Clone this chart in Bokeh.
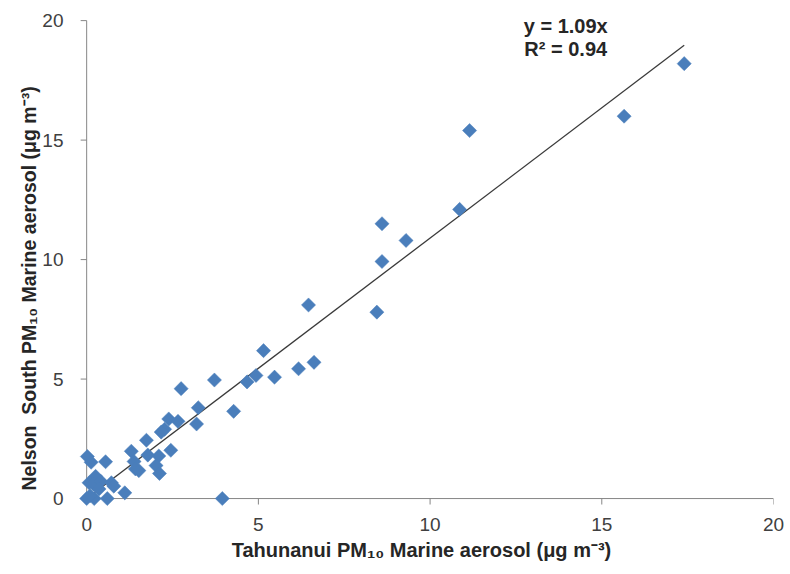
import math
from bokeh.plotting import figure
from bokeh.models import Range1d, Label, FixedTicker, Title
from bokeh.embed import file_html
from bokeh.resources import INLINE

# Tahunanui (x) vs Nelson South (y) PM10 marine aerosol, µg m-3
tahunanui = [17.4, 15.65, 11.15, 10.86, 9.3, 8.6, 8.6, 8.45, 6.46, 6.62,
             6.17, 5.47, 5.15, 4.93, 4.67, 3.72, 2.75, 3.25, 4.28, 3.2,
             2.39, 2.66, 2.27, 2.17, 1.74, 1.3, 2.45, 2.1, 1.78, 1.38,
             1.42, 1.52, 2.02, 2.12, 0.02, 0.13, 0.55, 0.26, 0.07, 0.2,
             0.41, 0.72, 0.79, 0.36, 1.11, 0.0, 0.22, 0.6, 3.95, 0.1]
nelson_south = [18.2, 16.0, 15.4, 12.1, 10.8, 11.5, 9.92, 7.8, 8.1, 5.7,
                5.43, 5.08, 6.19, 5.15, 4.88, 4.96, 4.6, 3.8, 3.65, 3.12,
                3.33, 3.23, 2.9, 2.78, 2.44, 1.98, 2.02, 1.78, 1.82, 1.55,
                1.24, 1.17, 1.38, 1.05, 1.76, 1.52, 1.54, 0.93, 0.66, 0.6,
                0.72, 0.66, 0.52, 0.4, 0.24, 0.0, 0.0, 0.0, 0.0, 0.12]
slope = 1.09
r_squared = 0.94
axis_ticks = [0, 5, 10, 15, 20]

FONT = "Liberation Sans"
AXIS_GREY = "#868686"

p = figure(output_backend="svg", toolbar_location=None,
           x_range=Range1d(-0.5, 20), y_range=Range1d(-0.5, 20.8),
           frame_width=704, frame_height=509,
           min_border_left=69, min_border_right=17,
           min_border_top=1, min_border_bottom=64)
p.outline_line_color = None
p.grid.visible = False
p.background_fill_color = "white"

# axis lines and outward tick marks at value 0, drawn through the data scales
lo, hi = min(axis_ticks), max(axis_ticks)
tick_len_y = 0.25   # in y units (x-axis ticks)
tick_len_x = 0.175  # in x units (y-axis ticks)
p.segment(x0=[lo], y0=[lo], x1=[hi], y1=[lo], line_color=AXIS_GREY, line_width=1)
p.segment(x0=[lo], y0=[lo], x1=[lo], y1=[hi], line_color=AXIS_GREY, line_width=1)
p.segment(x0=axis_ticks, y0=[lo] * len(axis_ticks), x1=axis_ticks,
          y1=[lo - tick_len_y] * len(axis_ticks), line_color=AXIS_GREY, line_width=1)
p.segment(x0=[lo] * len(axis_ticks), y0=axis_ticks, x1=[lo - tick_len_x] * len(axis_ticks),
          y1=axis_ticks, line_color=AXIS_GREY, line_width=1)

# trend line y = slope * x
fit_x = [0, max(tahunanui)]
fit_y = [slope * v for v in fit_x]
p.line(fit_x, fit_y, line_color="#3a3a3a", line_width=1.3)

p.scatter(tahunanui, nelson_south, marker="square", angle=math.pi / 4,
          size=10, fill_color="#4a7ebb", line_color="#4a7ebb", line_width=0.5)

for ax in (p.xaxis[0], p.yaxis[0]):
    ax.ticker = FixedTicker(ticks=axis_ticks)
    ax.axis_line_color = None
    ax.major_tick_line_color = None
    ax.minor_tick_line_color = None
    ax.major_tick_in = 0
    ax.major_tick_out = 0
    ax.major_label_text_font = FONT
    ax.major_label_text_font_size = "19px"
    ax.major_label_text_color = "#404040"

p.xaxis.major_label_standoff = 7
p.yaxis.major_label_standoff = 6

p.xaxis.bounds = (-0.26, 20)
p.xaxis.axis_label = "Tahunanui PM₁₀ Marine aerosol (μg m⁻³)"
p.xaxis.axis_label_text_font = FONT
p.xaxis.axis_label_text_font_style = "bold"
p.xaxis.axis_label_text_font_size = "20px"
p.xaxis.axis_label_text_color = "#262626"
p.xaxis.axis_label_standoff = 5

# y title as a side title, anchored near the bottom of the frame like the original
y_title = Title(text="Nelson\u00a0 South PM₁₀ Marine aerosol (μg m⁻³)",
                align="left", offset=20, standoff=0,
                text_font=FONT, text_font_style="bold", text_font_size="19.5px",
                text_color="#262626")
p.add_layout(y_title, "left")

p.add_layout(Label(x=13.95, y=19.79, text=f"y = {slope:.2f}x",
                   text_align="center", text_baseline="middle",
                   text_font=FONT, text_font_style="bold", text_font_size="20px",
                   text_color="#262626"))
p.add_layout(Label(x=13.95, y=18.83, text=f"R² = {r_squared:.2f}",
                   text_align="center", text_baseline="middle",
                   text_font=FONT, text_font_style="bold", text_font_size="20px",
                   text_color="#262626"))

open("out.html", "w").write(file_html(p, INLINE))
